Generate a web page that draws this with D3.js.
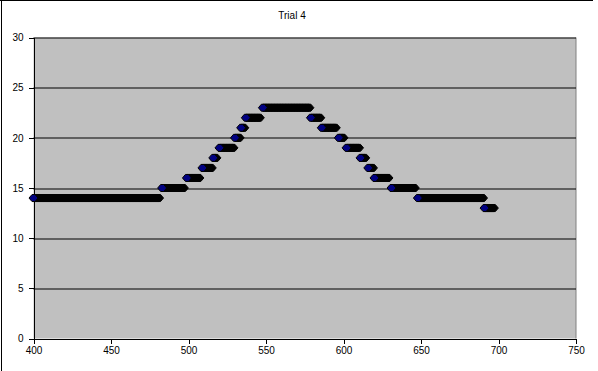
<!DOCTYPE html>
<html>
<head>
<meta charset="utf-8">
<script src="https://cdn.jsdelivr.net/npm/d3@7"></script>
<style>
  body { margin: 0; background: #fff; }
  svg { display: block; font-family: "Liberation Sans", Arial, sans-serif; }
</style>
</head>
<body>
<svg id="drawing_region"></svg>
<script>
// runs of constant value: the series is sampled at every whole x
const runStart = [400, 483, 499, 509, 516, 520, 530, 534, 537, 548, 579, 586, 597, 602, 611, 616, 620, 631, 648, 691]
const runEnd   = [481, 497, 507, 515, 518, 529, 533, 536, 546, 578, 585, 595, 600, 610, 614, 619, 629, 646, 690, 697]
const runValue = [14, 15, 16, 17, 18, 19, 20, 21, 22, 23, 22, 21, 20, 19, 18, 17, 16, 15, 14, 13]

const xTicks = [400, 450, 500, 550, 600, 650, 700, 750]
const yTicks = [0, 5, 10, 15, 20, 25, 30]
const title = 'Trial 4'

class TrialChart {
    constructor(config, data) {
        this.config = {
            parent: config.parent,
            width: config.width || 598,
            height: config.height || 371,
            margin: config.margin || {top: 37.5, left: 33.5, right: 22, bottom: 32.5},
            size: config.size || 9
        }
        this.data = data
        this.init()
    }

    init() {
        let self = this

        self.svg = d3.select(self.config.parent)
            .attr('width', self.config.width)
            .attr('height', self.config.height)

        self.inner_width = self.config.width - self.config.margin.left - self.config.margin.right
        self.inner_height = self.config.height - self.config.margin.top - self.config.margin.bottom

        self.chart = self.svg.append('g')
            .attr('transform', `translate(${self.config.margin.left},${self.config.margin.top})`)

        self.xscale = d3.scaleLinear().domain([400, 750]).range([0, self.inner_width])
        self.yscale = d3.scaleLinear().domain([0, 30]).range([self.inner_height, 0])

        self.xaxis = d3.axisBottom(self.xscale).tickValues(xTicks).tickSize(5).tickSizeOuter(0).tickPadding(3)
        self.yaxis = d3.axisLeft(self.yscale).tickValues(yTicks).tickSize(5).tickSizeOuter(0).tickPadding(5)
    }

    render() {
        let self = this

        // outer frame (top and left edges only are in the picture)
        self.svg.append('line')
            .attr('x1', 0).attr('x2', 593).attr('y1', 0.5).attr('y2', 0.5)
            .attr('stroke', '#000')
        self.svg.append('line')
            .attr('x1', 1.5).attr('x2', 1.5).attr('y1', 0).attr('y2', self.config.height)
            .attr('stroke', '#000')

        // title
        self.svg.append('text')
            .attr('x', 292)
            .attr('y', 18.5)
            .attr('text-anchor', 'middle')
            .attr('font-size', 10)
            .attr('fill', '#000')
            .text(title)

        // plot area
        self.chart.append('rect')
            .attr('width', self.inner_width)
            .attr('height', self.inner_height)
            .attr('fill', '#c0c0c0')
        self.chart.append('line')
            .attr('x1', self.inner_width).attr('x2', self.inner_width)
            .attr('y1', 0).attr('y2', self.inner_height)
            .attr('stroke', '#808080')

        // gridlines
        self.chart.selectAll('.grid').data(yTicks.filter(d => d > 0)).enter()
            .append('line')
            .attr('x1', 0).attr('x2', self.inner_width)
            .attr('y1', d => Math.round(self.yscale(d)) + 0.5)
            .attr('y2', d => Math.round(self.yscale(d)) + 0.5)
            .attr('stroke', '#000')

        // axes
        const xg = self.chart.append('g')
            .attr('transform', `translate(0,${self.inner_height})`)
            .call(self.xaxis)
        const yg = self.chart.append('g').call(self.yaxis)
        ;[xg, yg].forEach(g => {
            g.selectAll('path, line').attr('stroke', '#000').attr('shape-rendering', 'crispEdges')
            g.selectAll('text').attr('font-size', 10).attr('fill', '#000')
                .attr('font-family', '"Liberation Sans", Arial, sans-serif')
        })

        // markers (small excel diamonds come out as hexagons), drawn right to left;
        // where they pile up only the black rims show, so only a run's first marker looks navy
        const h = self.config.size / 2
        const v = 3.5
        const marker = `M${-h},0L${-h + 3},${-v}L${h - 3},${-v}L${h},0L${h - 3},${v}L${-h + 3},${v}Z`
        self.chart.selectAll('.pt').data(self.data.slice().reverse()).enter()
            .append('path')
            .attr('d', marker)
            .attr('transform', d => `translate(${self.xscale(d.x)},${self.yscale(d.y)})`)
            .attr('fill', d => d.first ? '#000080' : '#000')
            .attr('stroke', '#000')
            .attr('stroke-width', 1)
    }
}

const data = []
runStart.forEach((s, i) => {
    for (let x = s; x <= runEnd[i]; x++) data.push({x: x, y: runValue[i], first: x === s})
})

const chart = new TrialChart({parent: '#drawing_region', width: 598, height: 371}, data)
chart.render()
</script>
</body>
</html>
